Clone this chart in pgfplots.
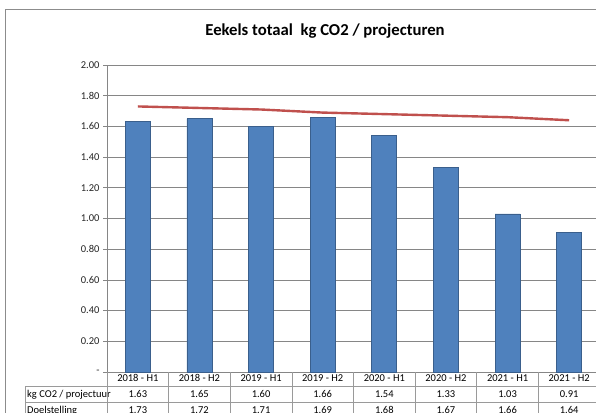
\documentclass[border=0pt]{standalone}
\usepackage{pgfplots}
\pgfplotsset{compat=1.18}
\usepackage{fontspec}
\setmainfont{Carlito}
\definecolor{barblue}{HTML}{4F81BD}
\definecolor{baredge}{HTML}{3A5F8C}
\definecolor{tgtred}{HTML}{C0504D}
\definecolor{gridgray}{HTML}{868686}
\definecolor{framegray}{HTML}{8C8C8C}
\definecolor{tablegray}{HTML}{9A9A9A}
\begin{document}
\begin{tikzpicture}[x=1pt,y=1pt]
\useasboundingbox (0,0) rectangle (596,412);
\clip (0,0) rectangle (596,412);
\fill[white] (0,0) rectangle (596,412);
\draw[framegray, line width=1pt] (5.5,-20) -- (5.5,402.5) -- (700,402.5);
\node[font=\bfseries\fontsize{16.7}{19}\selectfont] at (325,381) {Eekels totaal\ \ kg CO2 / projecturen};
% table grid
\draw[tablegray, line width=0.6pt] (25,26) -- (700,26);
\draw[tablegray, line width=0.6pt] (25,10) -- (700,10);
\draw[tablegray, line width=0.6pt] (25,-6) -- (700,-6);
\draw[tablegray, line width=0.6pt] (25,26) -- (25,-10);
\node[anchor=base west, font=\fontsize{10.5}{12}\selectfont, inner sep=0pt] at (27,14.6) {kg CO2 / projectuur};
\node[anchor=base west, font=\fontsize{10.5}{12}\selectfont, inner sep=0pt] at (27,-1.4) {Doelstelling};
\begin{axis}[
  at={(107pt,40pt)}, anchor=south west, scale only axis,
  width=493pt, height=307pt,
  xmin=-0.5, xmax=7.5, ymin=0, ymax=2,
  axis lines*=left,
  axis line style={gridgray, line width=0.6pt},
  ytick={0,0.2,0.4,0.6,0.8,1.0,1.2,1.4,1.6,1.8,2.0},
  yticklabels={-,0.20,0.40,0.60,0.80,1.00,1.20,1.40,1.60,1.80,2.00},
  ymajorgrids, grid style={gridgray, line width=0.6pt},
  tick align=outside, major tick length=4pt,
  ytick style={gridgray, line width=0.6pt},
  yticklabel style={font=\fontsize{10.5}{12}\selectfont, text=black!85},
  xtick={0,1,2,3,4,5,6,7},
  xtick style={draw=none},
  xticklabels={{2018 - H1\\1.63\\1.73},{2018 - H2\\1.65\\1.72},{2019 - H1\\1.60\\1.71},{2019 - H2\\1.66\\1.69},{2020 - H1\\1.54\\1.68},{2020 - H2\\1.33\\1.67},{2021 - H1\\1.03\\1.66},{2021 - H2\\0.91\\1.64}},
  xticklabel style={align=center, font=\fontsize{10.5}{16}\selectfont, anchor=north, inner sep=0pt, yshift=1.5pt},
  clip=false,
]
\addplot[ybar, bar width=25pt, bar shift=0pt, fill=barblue, draw=baredge, line width=0.7pt] coordinates {(0,1.63) (1,1.65) (2,1.60) (3,1.66) (4,1.54) (5,1.33) (6,1.03) (7,0.91)};
\addplot[tgtred, line width=2.4pt, no marks] coordinates {(0,1.73) (1,1.72) (2,1.71) (3,1.69) (4,1.68) (5,1.67) (6,1.66) (7,1.64)};
\pgfplotsinvokeforeach{0,...,8}{\draw[tablegray, line width=0.6pt] (axis cs:#1-0.5,0) -- ++(0pt,-60pt);}
\end{axis}
\end{tikzpicture}
\end{document}
